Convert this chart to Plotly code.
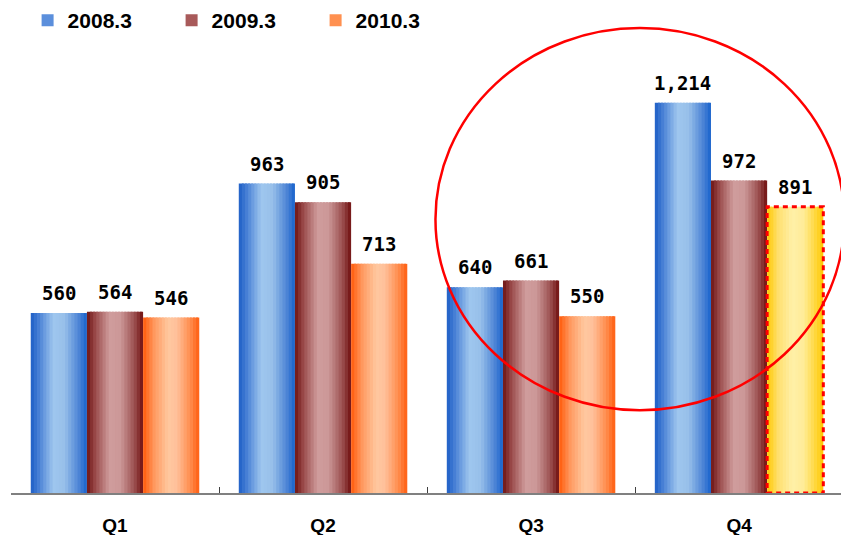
import plotly.graph_objects as go

quarters = ["Q1", "Q2", "Q3", "Q4"]
series_names = ["2008.3", "2009.3", "2010.3"]
v2008 = [560, 963, 640, 1214]
v2009 = [564, 905, 661, 972]
v2010 = [546, 713, 550, 891]
highlight_index = 3  # Q4 of 2010.3 is the forecast bar

values = [v2008, v2009, v2010]

grad_blue = [(0, '#1e5fc6'), (0.15, '#4a82d6'), (0.4, '#9ec6ee'), (0.6, '#98c0ea'), (0.85, '#4f86d6'), (1, '#1862cc')]
grad_brown = [(0, '#6e1414'), (0.15, '#9a4a4a'), (0.4, '#cf9c9c'), (0.6, '#cc9898'), (0.85, '#9a4e4e'), (1, '#701010')]
grad_orange = [(0, '#ff5a0a'), (0.2, '#ff9a60'), (0.45, '#ffc8a0'), (0.6, '#ffc09a'), (0.85, '#ff8a4a'), (1, '#ff5e10')]
grad_yellow = [(0, '#ffc800'), (0.2, '#ffe070'), (0.45, '#fff0a8'), (0.65, '#ffec98'), (0.85, '#ffd840'), (1, '#ffc800')]
grads = [grad_blue, grad_brown, grad_orange]
legend_colors = ['#5b8fdc', '#a85a5a', '#ff9050']


def hex2rgb(h):
    h = h.lstrip('#')
    return tuple(int(h[i:i + 2], 16) for i in (0, 2, 4))


def interp(grad, t):
    for (p0, c0), (p1, c1) in zip(grad[:-1], grad[1:]):
        if p0 <= t <= p1:
            f = (t - p0) / (p1 - p0) if p1 > p0 else 0
            a, b = hex2rgb(c0), hex2rgb(c1)
            r = [round(a[i] + (b[i] - a[i]) * f) for i in range(3)]
            return 'rgb(%d,%d,%d)' % tuple(r)
    return grad[-1][1]


bargap = 0.19
group_w = 1 - bargap
bar_w = group_w / 3
N = 18
step = bar_w / N

fig = go.Figure()

for s, name in enumerate(series_names):
    for k in range(N):
        t = (k + 0.5) / N
        col = interp(grads[s], t)
        colors = [col] * len(quarters)
        if s == 2:
            colors[highlight_index] = interp(grad_yellow, t)
        w = step * (1.6 if k < N - 1 else 1.0)
        fig.add_trace(go.Bar(
            x=quarters, y=values[s],
            width=[w] * len(quarters),
            offset=[-group_w / 2 + s * bar_w + k * step] * len(quarters),
            marker=dict(color=colors, line=dict(width=0)),
            showlegend=False, hoverinfo='skip'))

# legend entries
for s, name in enumerate(series_names):
    fig.add_trace(go.Bar(x=[None], y=[None], name=name,
                         marker=dict(color=legend_colors[s], line=dict(width=0)),
                         showlegend=True))

# value labels
for s in range(3):
    for i, q in enumerate(quarters):
        xc = i - group_w / 2 + (s + 0.5) * bar_w
        fig.add_annotation(x=xc, y=values[s][i], xref='x', yref='y',
                           text=f"{values[s][i]:,}", showarrow=False,
                           yanchor='middle', yshift=20,
                           font=dict(family='DejaVu Sans Mono', size=19, color='black', weight='bold'))

# dashed outline for forecast bar
x0 = highlight_index - group_w / 2 + 2 * bar_w
fig.add_shape(type='rect', xref='x', yref='y', x0=x0, x1=x0 + bar_w,
              y0=0, y1=v2010[highlight_index],
              line=dict(color='#ff0000', width=3, dash='5px,4px'), layer='above')

# red ellipse highlight
fig.add_shape(type='circle', xref='paper', yref='paper',
              x0=0.5114, x1=1.004, y0=0.168, y1=0.943,
              line=dict(color='#ff0000', width=2.5))

fig.update_layout(
    width=841, height=535,
    margin=dict(l=11, r=0, t=0, b=42),
    paper_bgcolor='white', plot_bgcolor='white',
    barmode='overlay',
    showlegend=True,
    legend=dict(orientation='h', x=0.02, y=0.959, xanchor='left', yanchor='middle',
                bgcolor='rgba(0,0,0,0)',
                font=dict(family='Liberation Sans', size=21, color='black', weight='bold'),
                entrywidth=99, entrywidthmode='pixels', itemsizing='constant'),
    xaxis=dict(type='category', range=[-0.5, 3.49], showline=True, linecolor='#808080', linewidth=2,
               ticks='inside', ticklen=6, tickcolor='#404040', tickson='boundaries',
               showgrid=False, zeroline=False, ticklabelstandoff=14,
               tickfont=dict(family='Liberation Sans', size=19, color='black', weight='bold')),
    yaxis=dict(range=[0, 1534], visible=False, showgrid=False, zeroline=False),
)

fig.write_html("out.html")
